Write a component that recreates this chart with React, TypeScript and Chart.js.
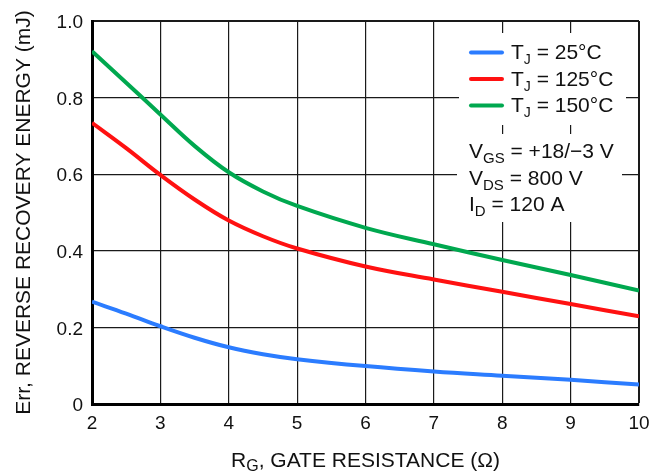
import React, { useEffect, useRef } from "react";
import { Chart, registerables } from "chart.js";

Chart.register(...registerables);

// ---- Data ----
const gateResistance = [2, 2.5, 3, 3.5, 4, 4.5, 5, 6, 7, 8, 9, 10];
const err25C = [0.267, 0.236, 0.203, 0.173, 0.148, 0.13, 0.117, 0.099, 0.085, 0.074, 0.063, 0.051];
const err125C = [0.734, 0.668, 0.598, 0.534, 0.479, 0.438, 0.406, 0.359, 0.325, 0.293, 0.261, 0.229];
const err150C = [0.921, 0.839, 0.756, 0.674, 0.605, 0.555, 0.517, 0.46, 0.417, 0.376, 0.337, 0.296];
const seriesTemps = ["25°C", "125°C", "150°C"];
const seriesColors = ["#2b7cff", "#ff1111", "#00a84f"];
const xTickValues = [2, 3, 4, 5, 6, 7, 8, 9, 10];
const yTickValues = [0, 0.2, 0.4, 0.6, 0.8, 1.0];
const conditionLines: { main: string; sub: string; rest: string }[] = [
  { main: "V", sub: "GS", rest: " = +18/\u22123 V" },
  { main: "V", sub: "DS", rest: " = 800 V" },
  { main: "I", sub: "D", rest: " = 120 A" },
];

const FONT = '"Liberation Sans", Arial, Helvetica, sans-serif';

type Part = { t: string; sub?: boolean };

function richWidth(ctx: CanvasRenderingContext2D, parts: Part[], size: number, subSize: number) {
  let w = 0;
  for (const p of parts) {
    ctx.font = `${p.sub ? subSize : size}px ${FONT}`;
    w += ctx.measureText(p.t).width;
  }
  return w;
}

function drawRich(
  ctx: CanvasRenderingContext2D,
  parts: Part[],
  x: number,
  y: number,
  size: number,
  subSize: number,
  subDrop: number
) {
  let cx = x;
  ctx.textAlign = "left";
  ctx.textBaseline = "alphabetic";
  for (const p of parts) {
    ctx.font = `${p.sub ? subSize : size}px ${FONT}`;
    ctx.fillText(p.t, cx, p.sub ? y + subDrop : y);
    cx += ctx.measureText(p.t).width;
  }
}

const overlayPlugin = {
  id: "overlay",
  beforeDatasetsDraw(chart: any) {
    const ctx: CanvasRenderingContext2D = chart.ctx;
    ctx.save();
    ctx.fillStyle = "#ffffff";
    ctx.fillRect(459, 33, 167, 92);
    ctx.fillRect(457, 134, 165, 88);
    ctx.restore();
  },
  afterDraw(chart: any) {
    const ctx: CanvasRenderingContext2D = chart.ctx;
    const area = chart.chartArea;
    ctx.save();
    ctx.fillStyle = "#111";

    // Legend
    const rowBase = [59, 85.5, 112];
    seriesTemps.forEach((label, i) => {
      const yLine = rowBase[i] - 6.5;
      ctx.strokeStyle = seriesColors[i];
      ctx.lineWidth = 4;
      ctx.lineCap = "round";
      ctx.beginPath();
      ctx.moveTo(471, yLine);
      ctx.lineTo(502, yLine);
      ctx.stroke();
      ctx.fillStyle = "#111";
      drawRich(ctx, [{ t: "T" }, { t: "J", sub: true }, { t: " = " + label }], 511, rowBase[i], 21, 14, 5);
    });

    // Conditions
    const condBase = [158, 184.5, 211];
    conditionLines.forEach((c, i) => {
      drawRich(ctx, [{ t: c.main }, { t: c.sub, sub: true }, { t: c.rest }], 469, condBase[i], 21, 15, 5);
    });

    // X axis title
    const xParts: Part[] = [{ t: "R" }, { t: "G", sub: true }, { t: ", GATE RESISTANCE (\u03A9)" }];
    const xw = richWidth(ctx, xParts, 21, 16);
    const xc = (area.left + area.right) / 2;
    drawRich(ctx, xParts, xc - xw / 2, 467, 21, 16, 4);

    // Y axis title
    ctx.translate(30, (area.top + area.bottom) / 2);
    ctx.rotate(-Math.PI / 2);
    ctx.font = `21px ${FONT}`;
    ctx.textAlign = "center";
    ctx.textBaseline = "alphabetic";
    ctx.fillText("Err, REVERSE RECOVERY ENERGY (mJ)", 0, 0);
    ctx.restore();
  },
};

export default function App() {
  const canvasRef = useRef<HTMLCanvasElement | null>(null);

  useEffect(() => {
    if (!canvasRef.current) return;
    const mk = (vals: number[]) => gateResistance.map((x, i) => ({ x, y: vals[i] }));
    const series = [err25C, err125C, err150C];
    const chart = new Chart(canvasRef.current, {
      type: "line",
      data: {
        datasets: series.map((vals, i) => ({
          label: "TJ = " + seriesTemps[i],
          data: mk(vals),
          borderColor: seriesColors[i],
          backgroundColor: seriesColors[i],
          borderWidth: 4,
          pointRadius: 0,
          tension: 0.4,
          fill: false,
        })),
      },
      options: {
        animation: false,
        responsive: false,
        devicePixelRatio: 1,
        layout: { padding: { top: 21, right: 23, left: 0, bottom: 0 } },
        plugins: {
          legend: { display: false },
          tooltip: { enabled: false },
          title: { display: false },
        },
        scales: {
          x: {
            type: "linear",
            min: 2,
            max: 10,
            afterFit: (s: any) => {
              s.height = 71;
            },
            afterBuildTicks: (s: any) => {
              s.ticks = xTickValues.map((v) => ({ value: v }));
            },
            ticks: {
              font: { family: FONT, size: 19 },
              color: "#111",
              padding: 8,
              maxRotation: 0,
              autoSkip: false,
              callback: (v: any) => String(v),
            },
            grid: {
              color: "#1a1a1a",
              lineWidth: (c: any) => (c.tick && c.tick.value === 10 ? 2 : 1.2),
              drawTicks: false,
            },
            border: { color: "#000", width: 3 },
          },
          y: {
            type: "linear",
            min: 0,
            max: 1,
            afterFit: (s: any) => {
              s.width = 92;
            },
            afterBuildTicks: (s: any) => {
              s.ticks = yTickValues.map((v) => ({ value: v }));
            },
            ticks: {
              font: { family: FONT, size: 19 },
              color: "#111",
              padding: 9,
              labelOffset: 2,
              callback: (v: any) => (Number(v) === 0 ? "0" : Number(v).toFixed(1)),
            },
            grid: {
              color: "#1a1a1a",
              lineWidth: (c: any) => (c.tick && Math.abs(c.tick.value - 1) < 1e-6 ? 2 : 1.2),
              drawTicks: false,
            },
            border: { color: "#000", width: 3 },
          },
        },
      },
      plugins: [overlayPlugin],
    });
    return () => chart.destroy();
  }, []);

  return (
    <div style={{ position: "absolute", left: 0, top: 0, width: 662, height: 475, background: "#fff" }}>
      <style>{`body{margin:0;background:#fff;}`}</style>
      <canvas ref={canvasRef} width={662} height={475} style={{ display: "block" }} />
    </div>
  );
}
